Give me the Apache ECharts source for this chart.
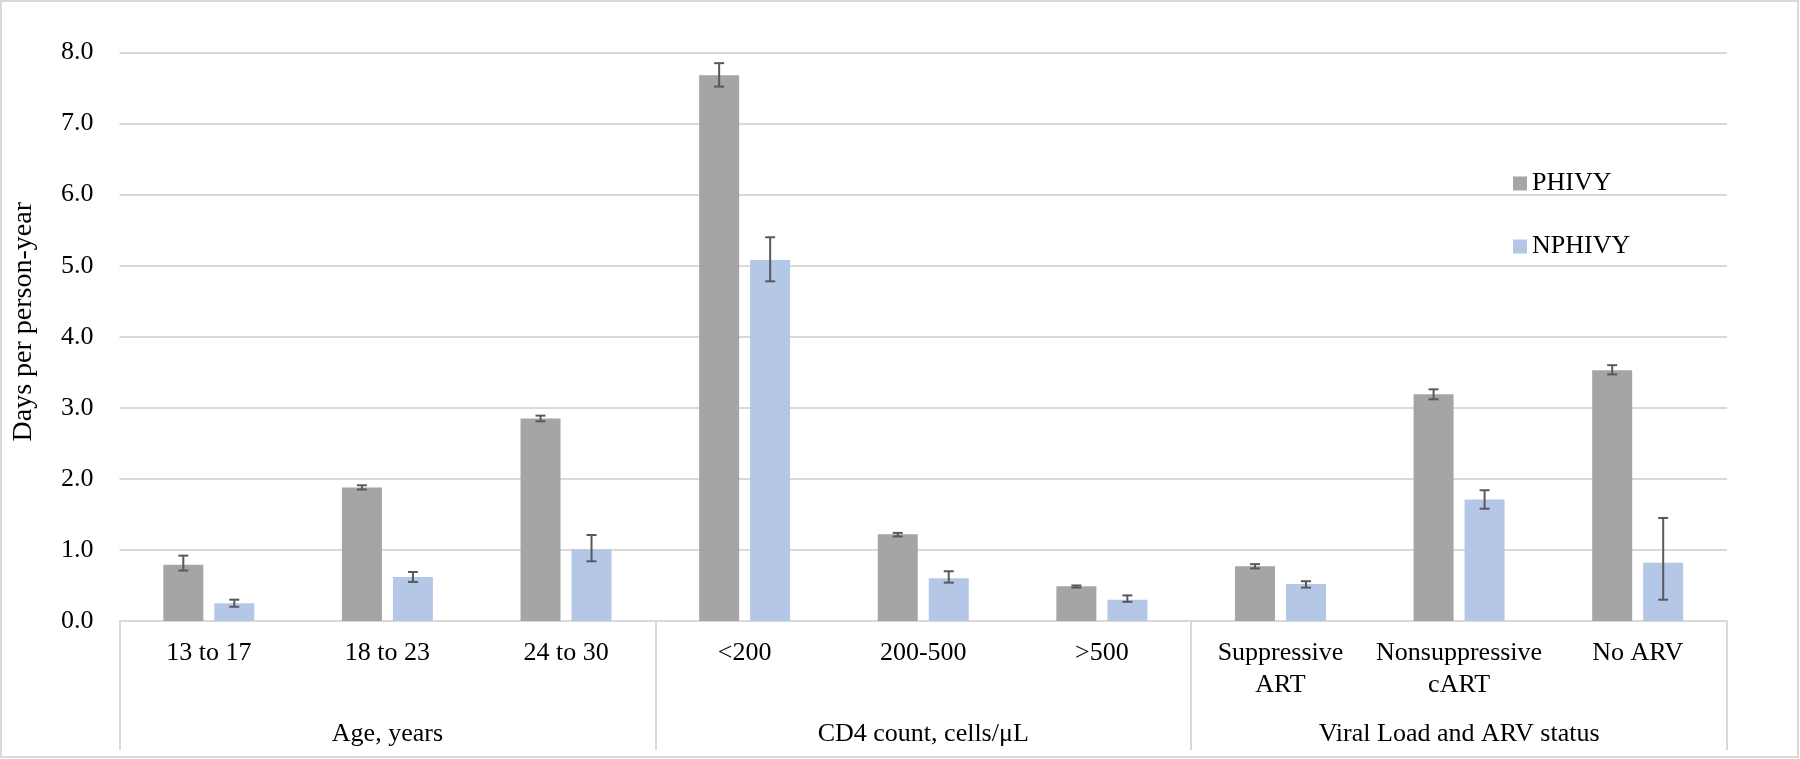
<!DOCTYPE html>
<html>
<head>
<meta charset="utf-8">
<script src="https://cdn.jsdelivr.net/npm/echarts@6/dist/echarts.min.js"></script>
<style>
html,body{margin:0;padding:0;background:#fff;}
#chart{width:1800px;height:759px;}
</style>
</head>
<body>
<div id="chart"></div>
<script>
const categories = ['13 to 17','18 to 23','24 to 30','<200','200-500','>500','Suppressive\nART','Nonsuppressive\ncART','No ARV'];
const groups = ['Age, years','CD4 count, cells/\u03bcL','Viral Load and ARV status'];
const yTicks = [0,1,2,3,4,5,6,7,8];
const phivy     = [0.79,1.88,2.85,7.68,1.22,0.49,0.77,3.19,3.53];
const phivyLow  = [0.71,1.85,2.81,7.52,1.19,0.47,0.74,3.12,3.47];
const phivyHigh = [0.92,1.91,2.89,7.85,1.24,0.50,0.80,3.26,3.60];
const nphivy     = [0.25,0.62,1.01,5.08,0.60,0.30,0.52,1.71,0.82];
const nphivyLow  = [0.20,0.55,0.84,4.78,0.54,0.27,0.47,1.58,0.30];
const nphivyHigh = [0.30,0.69,1.21,5.40,0.70,0.36,0.56,1.84,1.45];

const FONT = "'Liberation Serif','Times New Roman',serif";
const BAR_W = 40, GAP = 11;
const OFF = (BAR_W + GAP) / 2;

function errSeries(name, low, high, dir) {
  return {
    type: 'custom',
    name: name + ' err',
    xAxisIndex: 0, yAxisIndex: 0,
    data: low.map((l, i) => [i, l, high[i]]),
    z: 10,
    silent: true,
    renderItem: function (params, api) {
      const i = api.value(0);
      const pLo = api.coord([i, api.value(1)]);
      const pHi = api.coord([i, api.value(2)]);
      const x = pLo[0] + dir * OFF;
      const cap = 5;
      const st = { stroke: '#595959', lineWidth: 2 };
      return {
        type: 'group',
        children: [
          { type: 'line', shape: { x1: x, y1: pLo[1], x2: x, y2: pHi[1] }, style: st },
          { type: 'line', shape: { x1: x - cap, y1: pLo[1], x2: x + cap, y2: pLo[1] }, style: st },
          { type: 'line', shape: { x1: x - cap, y1: pHi[1], x2: x + cap, y2: pHi[1] }, style: st }
        ]
      };
    }
  };
}

const chart = echarts.init(document.getElementById('chart'));
chart.setOption({
  animation: false,
  backgroundColor: '#fff',
  textStyle: { fontFamily: FONT },
  graphic: [{
    type: 'rect', shape: { x: 1, y: 1, width: 1797, height: 756 },
    style: { fill: 'none', stroke: '#d9d9d9', lineWidth: 2 }, silent: true
  }],
  grid: { left: 119.5, right: 73, top: 52.5, bottom: 138 },
  legend: {
    orient: 'vertical', left: 1508, top: 165,
    itemWidth: 14, itemHeight: 14, itemGap: 36,
    icon: 'rect',
    data: ['PHIVY', 'NPHIVY'],
    textStyle: { fontFamily: FONT, fontSize: 26, color: '#000', lineHeight: 27 }
  },
  xAxis: [{
    type: 'category', data: categories, position: 'bottom',
    axisLine: { show: true, lineStyle: { color: '#d9d9d9', width: 2 } },
    axisTick: { show: false },
    axisLabel: { interval: 0, margin: 16, fontFamily: FONT, fontSize: 26, lineHeight: 32, color: '#000' }
  }, {
    type: 'category', data: groups, position: 'bottom',
    axisLine: { show: false },
    axisTick: { show: true, length: 129, lineStyle: { color: '#d9d9d9', width: 2 } },
    axisLabel: { interval: 0, margin: 100, fontFamily: FONT, fontSize: 26, color: '#000' }
  }],
  yAxis: {
    type: 'value', min: 0, max: 8, interval: 1,
    name: 'Days per person-year', nameLocation: 'middle', nameGap: 82, nameRotate: 90,
    nameTextStyle: { fontFamily: FONT, fontSize: 28, color: '#000', padding: [0, 0, 0, 30] },
    axisLine: { show: false }, axisTick: { show: false },
    axisLabel: { margin: 26, fontFamily: FONT, fontSize: 26, color: '#000',
      formatter: v => yTicks.indexOf(v) >= 0 ? v.toFixed(1) : '' },
    splitLine: { lineStyle: { color: '#d9d9d9', width: 2 } }
  },
  series: [
    { type: 'bar', name: 'PHIVY', data: phivy, barWidth: BAR_W, barGap: (GAP / BAR_W * 100) + '%',
      itemStyle: { color: '#a5a5a5' } },
    { type: 'bar', name: 'NPHIVY', data: nphivy, barWidth: BAR_W,
      itemStyle: { color: '#b4c7e7' } },
    errSeries('PHIVY', phivyLow, phivyHigh, -1),
    errSeries('NPHIVY', nphivyLow, nphivyHigh, 1)
  ]
});
</script>
</body>
</html>
